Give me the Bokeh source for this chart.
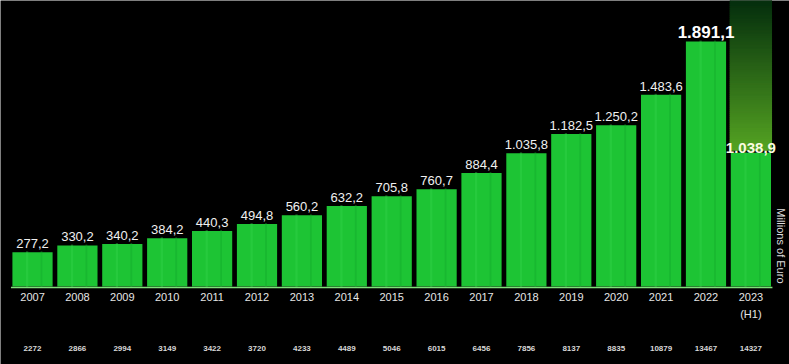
import numpy as np
from bokeh.plotting import figure
from bokeh.models import ColumnDataSource, Range1d
from bokeh.core.properties import value
from bokeh.embed import file_html
from bokeh.resources import INLINE

years = ["2007", "2008", "2009", "2010", "2011", "2012", "2013", "2014", "2015",
         "2016", "2017", "2018", "2019", "2020", "2021", "2022", "2023"]
revenues = [277.2, 330.2, 340.2, 384.2, 440.3, 494.8, 560.2, 632.2, 705.8,
            760.7, 884.4, 1035.8, 1182.5, 1250.2, 1483.6, 1891.1, 1038.9]
value_labels = ["277,2", "330,2", "340,2", "384,2", "440,3", "494,8", "560,2", "632,2",
                "705,8", "760,7", "884,4", "1.035,8", "1.182,5", "1.250,2", "1.483,6",
                "1.891,1", "1.038,9"]
headcount = ["2272", "2866", "2994", "3149", "3422", "3720", "4233", "4489", "5046",
             "6015", "6456", "7856", "8137", "8835", "10879", "13467", "14327"]
sub_label = "(H1)"
axis_title = "Millions of Euro"

n = len(years)
idx = np.arange(n)

p = figure(width=789, height=364, output_backend="svg", toolbar_location=None,
           x_range=Range1d(-0.713, 16.86), y_range=Range1d(-589.6, 2197.6),
           min_border=0, background_fill_color="black", border_fill_color="black",
           outline_line_color=None)
p.axis.visible = False
p.grid.visible = False

# gradient "projection" box above the 2023 H1 bar
top_val = 2190.0
steps = 80
edges = np.linspace(revenues[-1], top_val, steps + 1)
cols = []
for k in range(steps):
    t = k / (steps - 1)  # 0 bottom -> 1 top
    r = int(85 * (1 - t) + 6 * t)
    g = int(165 * (1 - t) + 48 * t)
    b = int(35 * (1 - t) + 14 * t)
    cols.append("#%02x%02x%02x" % (r, g, b))
p.quad(left=[n - 1 - 0.46] * steps, right=[n - 1 + 0.46] * steps,
       bottom=edges[:-1], top=edges[1:] + 12, fill_color=cols, line_color=cols,
       line_width=1)

src = ColumnDataSource(dict(x=idx, top=revenues, lab=value_labels, yr=years, hc=headcount))
p.vbar(x="x", top="top", bottom=0, width=0.94, source=src,
       fill_color="#1dc434", line_color="black", line_width=2)
# subtle lighter stripes inside bars
p.vbar(x=idx - 0.12, top=revenues, bottom=0, width=0.05, fill_color="#3ad850",
       fill_alpha=0.35, line_color=None)
p.vbar(x=idx + 0.2, top=revenues, bottom=0, width=0.04, fill_color="#12a82a",
       fill_alpha=0.4, line_color=None)

# baseline
p.line(x=[-0.48, n - 1 + 0.48], y=[0, 0], line_color="#7fe07a", line_width=1.5)

font = value("Liberation Sans")
reg = ColumnDataSource(dict(x=idx[:-2], y=revenues[:-2], t=value_labels[:-2]))
p.text(x="x", y="y", text="t", source=reg, text_font=font, text_font_size="13px",
       text_color="#f0f0f0", text_align="center", text_baseline="bottom", y_offset=-3)
p.text(x=[n - 2], y=[revenues[-2]], text=[value_labels[-2]], text_font=font,
       text_font_size="17px", text_font_style="bold", text_color="white",
       text_align="center", text_baseline="bottom", y_offset=-3)
p.text(x=[n - 1], y=[revenues[-1]], text=[value_labels[-1]], text_font=font,
       text_font_size="15px", text_font_style="bold", text_color="#fbfbe0",
       text_align="center", text_baseline="middle", y_offset=-4)

# year labels
p.text(x="x", y=0, text="yr", source=src, text_font=font, text_font_size="11px",
       text_color="#e6e6e6", text_align="center", text_baseline="top", y_offset=5)
p.text(x=[n - 1], y=[0], text=[sub_label], text_font=font, text_font_size="11px",
       text_color="#e6e6e6", text_align="center", text_baseline="top", y_offset=20)
# headcount row
p.text(x="x", y=0, text="hc", source=src, text_font=font, text_font_size="8px",
       text_font_style="bold", text_color="#d8d8d8", text_align="center",
       text_baseline="middle", y_offset=61)

# vertical axis title
p.text(x=[n - 1 + 0.66], y=[0], text=[axis_title], text_font=font, text_font_size="11px",
       text_color="#dddddd", angle=-np.pi / 2, text_align="right", text_baseline="middle",
       y_offset=-4)

open("out.html", "w").write(file_html(p, INLINE))
